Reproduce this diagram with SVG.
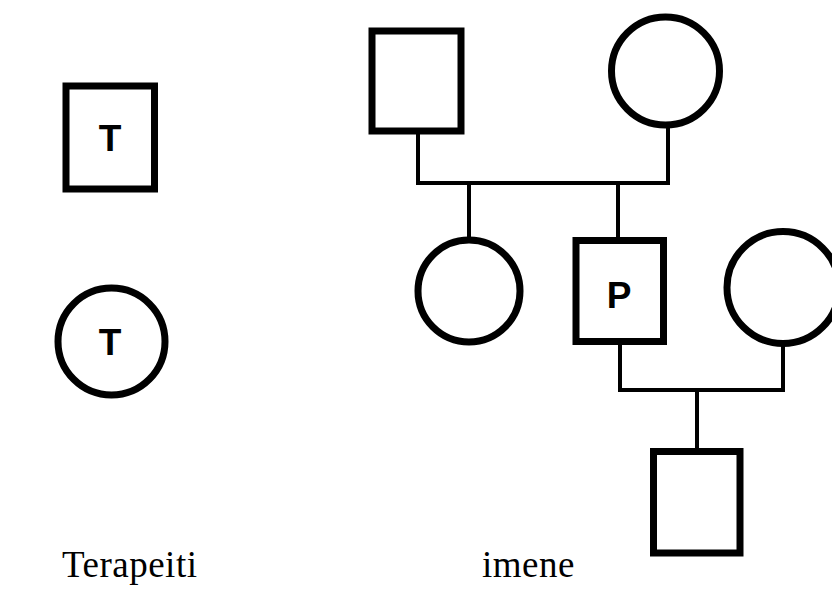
<svg xmlns="http://www.w3.org/2000/svg" width="832" height="612" viewBox="0 0 832 612">
<style>
.shape{fill:#fff;stroke:#000;stroke-width:7}
.line{fill:none;stroke:#000;stroke-width:4}
.sym{font-family:"Liberation Sans",Arial,sans-serif;font-size:37px;font-weight:bold;fill:#000;text-anchor:middle}
.cap{font-family:"Liberation Serif","Times New Roman",serif;font-size:37px;fill:#000;letter-spacing:0.5px}
</style>
<rect width="832" height="612" fill="#fff"/>
<g id="connectors">
<polyline class="line" points="418,131 418,183 668,183 668,128"/>
<line class="line" x1="469" y1="183" x2="469" y2="238"/>
<line class="line" x1="618" y1="183" x2="618" y2="240"/>
<polyline class="line" points="620,341 620,390 783,390 783,344"/>
<line class="line" x1="697" y1="390" x2="697" y2="451"/>
</g>
<g id="therapist-male">
<rect class="shape" x="66" y="86" width="88.5" height="103"/>
<text class="sym" x="110" y="151">T</text>
</g>
<g id="therapist-female">
<circle class="shape" cx="111.5" cy="341.5" r="53.5"/>
<text class="sym" x="110" y="355">T</text>
</g>
<g id="grandfather">
<rect class="shape" x="372" y="31" width="89" height="100"/>
</g>
<g id="grandmother">
<circle class="shape" cx="665.5" cy="71" r="54"/>
</g>
<g id="sister">
<circle class="shape" cx="469" cy="291" r="51"/>
</g>
<g id="patient">
<rect class="shape" x="576" y="240.5" width="87.5" height="101"/>
<text class="sym" x="619" y="308">P</text>
</g>
<g id="wife">
<circle class="shape" cx="783" cy="287.5" r="56"/>
</g>
<g id="son">
<rect class="shape" x="653.5" y="451.5" width="86.5" height="101.5"/>
</g>
<text class="cap" x="62" y="577">Terapeiti</text>
<text class="cap" x="482" y="577">imene</text>
</svg>
